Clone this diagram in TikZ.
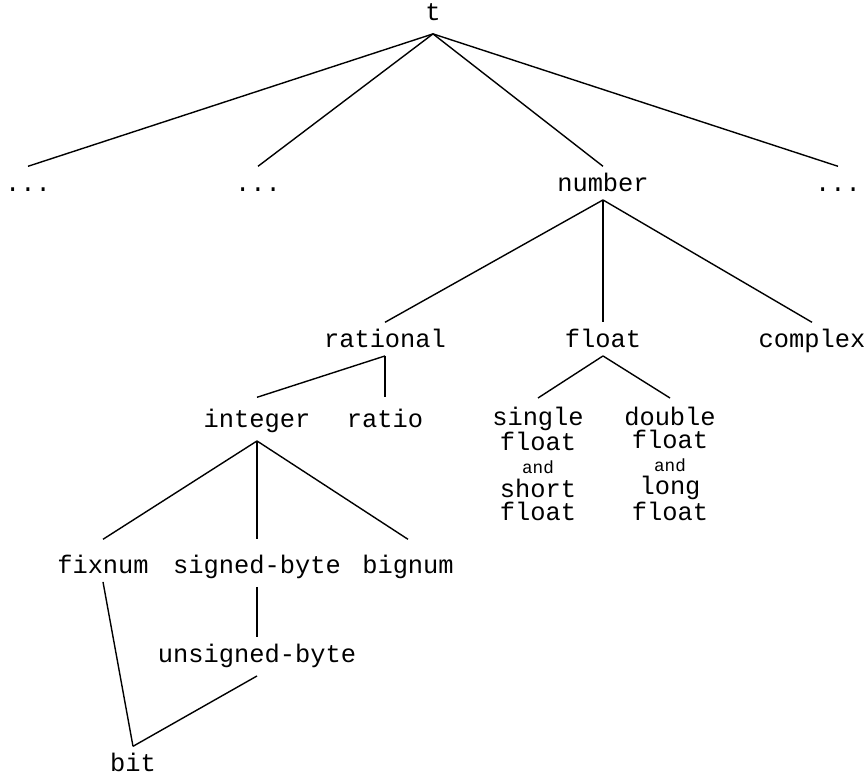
\documentclass[tikz,border=0pt]{standalone}
\usepackage{fontspec}
\setmonofont{Liberation Mono}
\usepackage{tikz}

\begin{document}
\begin{tikzpicture}
      [
      x=0.5pt,y=-0.5pt,line width=0.7pt,
      type/.style={font=\ttfamily\fontsize{12.7}{11.6}\selectfont,inner sep=4pt,text height=8pt,anchor=base},
      pair/.style={font=\ttfamily\fontsize{12.7}{11.6}\selectfont,inner sep=4pt,align=center,anchor=north}
      ]
      \useasboundingbox (0,0) rectangle (868,776);
      \node (t) at (433,20) [type,inner ysep=6.5pt] {t};
      \node (d1) at (28,191) [type] {...};
      \node (d2) at (258,191) [type] {...};
      \node (number) at (603,191) [type] {number};
      \node (d3) at (838,191) [type] {...};
      \node (rational) at (385,347) [type] {rational};
      \node (float) at (603,347) [type] {float};
      \node (complex) at (812,347) [type] {complex};
      \node (integer) at (257,427) [type,text height=10.5pt] {integer};
      \node (ratio) at (385,427) [type,text height=10.5pt] {ratio};
      \node (single) at (538,398) [pair] {single\\float\\{\fontsize{8.8}{11.6}\selectfont and}\\short\\float};
      \node (double) at (670,398) [pair] {double\\float\\{\fontsize{8.8}{11.6}\selectfont and}\\long\\float};
      \node (fixnum) at (103,573) [type,text height=12.5pt] {fixnum};
      \node (signed) at (257,573) [type,text height=12.5pt] {signed-byte};
      \node (bignum) at (408,573) [type,text height=12.5pt] {bignum};
      \node (unsigned) at (257,662) [type] {unsigned-byte};
      \node (bit) at (133,771) [type] {bit};
      \draw (t.south) to (d1.north);
      \draw (t.south) to (d2.north);
      \draw (t.south) to (number.north);
      \draw (t.south) to (d3.north);
      \draw (number.south) to (rational.north);
      \draw (number.south) to (float.north);
      \draw (number.south) to (complex.north);
      \draw (rational.south) to (integer.north);
      \draw (rational.south) to (ratio.north);
      \draw (float.south) to (single.north);
      \draw (float.south) to (double.north);
      \draw (integer.south) to (fixnum.north);
      \draw (integer.south) to (signed.north);
      \draw (integer.south) to (bignum.north);
      \draw (signed.south) to (unsigned.north);
      \draw (fixnum.south) to (bit.north);
      \draw (unsigned.south) to (bit.north);
    \end{tikzpicture}
\end{document}
